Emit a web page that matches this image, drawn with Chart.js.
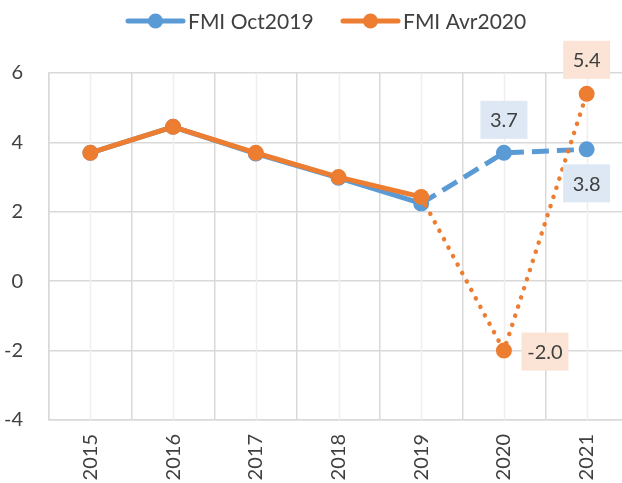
<!DOCTYPE html>
<html>
<head>
<meta charset="utf-8">
<script src="https://cdn.jsdelivr.net/npm/chart.js@4/dist/chart.umd.min.js"></script>
<style>
html,body{margin:0;padding:0;background:#fff;overflow:hidden;}
#wrap{position:relative;width:637px;height:483px;}
canvas{display:block;}
</style>
</head>
<body>
<div id="wrap"><canvas id="c" width="637" height="483"></canvas></div>
<script>
const years = ['2015','2016','2017','2018','2019','2020','2021'];
const seriesNames = ['FMI Oct2019','FMI Avr2020'];
const oct2019 = [3.7, 4.45, 3.68, 2.98, 2.24, 3.7, 3.8];
const avr2020 = [3.7, 4.45, 3.7, 3.0, 2.43, -2.0, 5.4];
const yTicks = [-4, -2, 0, 2, 4, 6];

const BLUE = '#5B9BD5', ORANGE = '#ED7D31';
const FONT = 'Lato, "Open Sans", sans-serif';
const TXT = '#404040';
const FORECAST_FROM = 4; // index from which the projection starts

// labels drawn on points: [datasetIndex, pointIndex, dx, dy, fill]
const labelSpecs = [
  [0, 5, 0, -33, '#DEE8F4'],
  [0, 6, 0, 34, '#DEE8F4'],
  [1, 5, 41, 1, '#FBE4D6'],
  [1, 6, 0, -34, '#FBE4D6']
];

const centerGrid = {
  id: 'centerGrid',
  beforeDatasetsDraw(chart) {
    const {ctx, chartArea: a, scales: {x}} = chart;
    ctx.save();
    ctx.strokeStyle = '#EFEFEF';
    ctx.lineWidth = 1.5;
    years.forEach((y, i) => {
      const px = Math.round(x.getPixelForValue(i)) + 0.5;
      ctx.beginPath(); ctx.moveTo(px, a.top); ctx.lineTo(px, a.bottom); ctx.stroke();
    });
    ctx.restore();
  }
};

const pointLabels = {
  id: 'pointLabels',
  afterDatasetsDraw(chart) {
    const ctx = chart.ctx;
    ctx.save();
    ctx.font = '20px ' + FONT;
    ctx.textAlign = 'center';
    ctx.textBaseline = 'middle';
    labelSpecs.forEach(([d, i, dx, dy, fill]) => {
      const el = chart.getDatasetMeta(d).data[i];
      const v = chart.data.datasets[d].data[i];
      const cx = el.x + dx, cy = el.y + dy;
      const w = 47, h = 38;
      ctx.fillStyle = fill;
      ctx.fillRect(cx - w / 2, cy - h / 2, w, h);
      ctx.fillStyle = TXT;
      ctx.fillText(v.toFixed(1), cx, cy + 1);
    });
    ctx.restore();
  }
};

const legendPlugin = {
  id: 'customLegend',
  afterDraw(chart) {
    const ctx = chart.ctx;
    const items = [[seriesNames[0], BLUE, 128], [seriesNames[1], ORANGE, 343]];
    ctx.save();
    ctx.font = '21px ' + FONT;
    ctx.textBaseline = 'middle';
    ctx.textAlign = 'left';
    items.forEach(([name, col, x0]) => {
      const y = 21;
      ctx.strokeStyle = col; ctx.lineWidth = 5; ctx.lineCap = 'round';
      ctx.beginPath(); ctx.moveTo(x0, y); ctx.lineTo(x0 + 55, y); ctx.stroke();
      ctx.fillStyle = col;
      ctx.beginPath(); ctx.arc(x0 + 27.5, y, 7.5, 0, Math.PI * 2); ctx.fill();
      ctx.fillStyle = TXT;
      ctx.fillText(name, x0 + 60, y + 1);
    });
    ctx.restore();
  }
};

new Chart(document.getElementById('c'), {
  type: 'line',
  data: {
    labels: years,
    datasets: [
      {
        label: seriesNames[0], data: oct2019,
        borderColor: BLUE, backgroundColor: BLUE,
        borderWidth: 5, borderCapStyle: 'butt', borderJoinStyle: 'round',
        pointRadius: 7, pointBorderWidth: 2, pointBorderColor: BLUE, pointBackgroundColor: BLUE,
        segment: {
          borderDash: c => c.p0DataIndex >= FORECAST_FROM ? [17, 8] : undefined
        },
        order: 2, tension: 0
      },
      {
        label: seriesNames[1], data: avr2020,
        borderColor: ORANGE, backgroundColor: ORANGE,
        borderWidth: 5, borderCapStyle: 'round', borderJoinStyle: 'round',
        pointRadius: 7, pointBorderWidth: 2, pointBorderColor: ORANGE, pointBackgroundColor: ORANGE,
        segment: {
          borderDash: c => c.p0DataIndex >= FORECAST_FROM ? [0.1, 9.5] : undefined,
          borderWidth: c => c.p0DataIndex >= FORECAST_FROM ? 4.5 : 5
        },
        order: 1, tension: 0
      }
    ]
  },
  options: {
    responsive: false,
    animation: false,
    devicePixelRatio: 1,
    layout: { padding: { top: 73, right: 2, left: 0, bottom: 0 } },
    plugins: { legend: { display: false }, tooltip: { enabled: false } },
    scales: {
      x: {
        offset: true,
        grid: { offset: true, color: '#D9D9D9', lineWidth: 1.5, drawTicks: false },
        border: { display: true, color: '#D9D9D9', width: 1.5 },
        ticks: { color: TXT, font: { family: FONT, size: 20 }, minRotation: 90, maxRotation: 90, padding: 14, autoSkip: false },
        afterFit(s) { s.height = 63; }
      },
      y: {
        min: -4, max: 6,
        afterBuildTicks(s) { s.ticks = yTicks.map(v => ({ value: v })); },
        grid: { color: '#D9D9D9', lineWidth: 1.5, drawTicks: false },
        border: { display: true, color: '#D9D9D9', width: 1.5 },
        ticks: { color: TXT, font: { family: FONT, size: 20 }, padding: 26 },
        afterFit(s) { s.width = 49; }
      }
    }
  },
  plugins: [centerGrid, pointLabels, legendPlugin]
});
</script>
</body>
</html>
